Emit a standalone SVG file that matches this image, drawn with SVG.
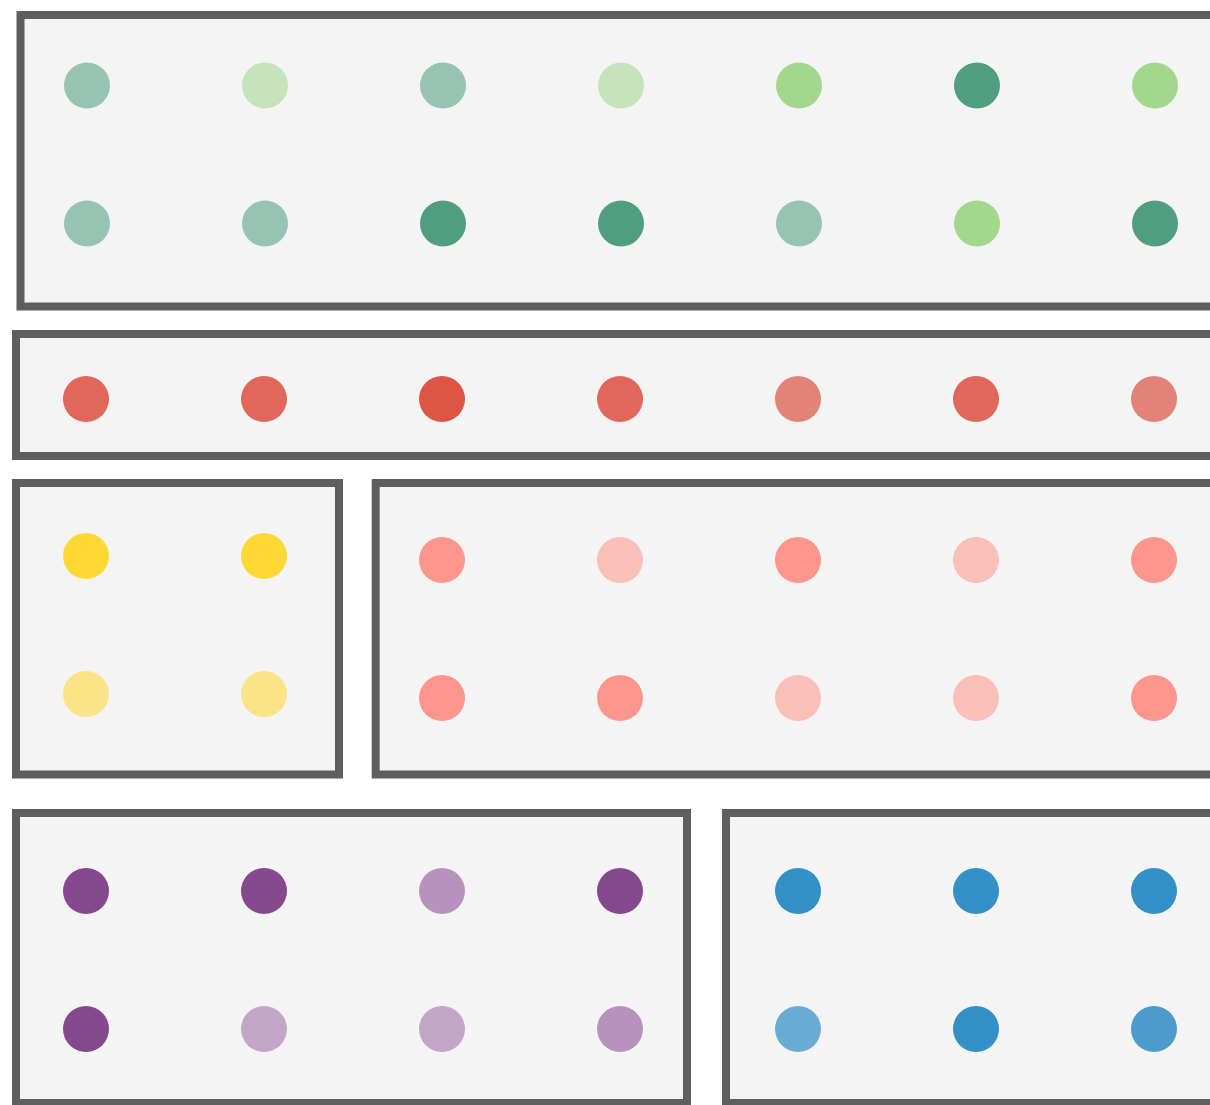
<svg xmlns="http://www.w3.org/2000/svg" width="1210" height="1105" viewBox="0 0 1210 1105">
<style>
.box{fill:#f4f4f4;stroke:#5e5e5e;stroke-width:8}
.g1{fill:#96c3b2}.g2{fill:#c5e4bb}.g3{fill:#a3d78c}.g4{fill:#509e80}
.r1{fill:#e06759}.r2{fill:#de5445}.r3{fill:#e28377}
.y1{fill:#ffd833}.y2{fill:#fbe488}
.p1{fill:#ff968c}.p2{fill:#f9bfb8}
.v1{fill:#85478d}.v2{fill:#b792bc}.v3{fill:#c3a6c7}
.b1{fill:#3290c7}.b2{fill:#68acd4}.b3{fill:#4b9ccd}
</style>
<rect width="1210" height="1105" fill="#ffffff"/>
<g id="group-green">
<rect class="box" x="20.5" y="15" width="1200" height="291.5"/>
<circle class="g1" cx="87" cy="85.5" r="23"/>
<circle class="g2" cx="265" cy="85.5" r="23"/>
<circle class="g1" cx="443" cy="85.5" r="23"/>
<circle class="g2" cx="621" cy="85.5" r="23"/>
<circle class="g3" cx="799" cy="85.5" r="23"/>
<circle class="g4" cx="977" cy="85.5" r="23"/>
<circle class="g3" cx="1155" cy="85.5" r="23"/>
<circle class="g1" cx="87" cy="223.5" r="23"/>
<circle class="g1" cx="265" cy="223.5" r="23"/>
<circle class="g4" cx="443" cy="223.5" r="23"/>
<circle class="g4" cx="621" cy="223.5" r="23"/>
<circle class="g1" cx="799" cy="223.5" r="23"/>
<circle class="g3" cx="977" cy="223.5" r="23"/>
<circle class="g4" cx="1155" cy="223.5" r="23"/>
</g>
<g id="group-red">
<rect class="box" x="16" y="334" width="1204" height="122"/>
<circle class="r1" cx="86" cy="399" r="23"/>
<circle class="r1" cx="264" cy="399" r="23"/>
<circle class="r2" cx="442" cy="399" r="23"/>
<circle class="r1" cx="620" cy="399" r="23"/>
<circle class="r3" cx="798" cy="399" r="23"/>
<circle class="r1" cx="976" cy="399" r="23"/>
<circle class="r3" cx="1154" cy="399" r="23"/>
</g>
<g id="group-yellow">
<rect class="box" x="16" y="483" width="323" height="291.5"/>
<circle class="y1" cx="86" cy="556" r="23"/>
<circle class="y1" cx="264" cy="556" r="23"/>
<circle class="y2" cx="86" cy="694" r="23"/>
<circle class="y2" cx="264" cy="694" r="23"/>
</g>
<g id="group-pink">
<rect class="box" x="375.7" y="483" width="850" height="291.5"/>
<circle class="p1" cx="442" cy="560" r="23"/>
<circle class="p2" cx="620" cy="560" r="23"/>
<circle class="p1" cx="798" cy="560" r="23"/>
<circle class="p2" cx="976" cy="560" r="23"/>
<circle class="p1" cx="1154" cy="560" r="23"/>
<circle class="p1" cx="442" cy="698" r="23"/>
<circle class="p1" cx="620" cy="698" r="23"/>
<circle class="p2" cx="798" cy="698" r="23"/>
<circle class="p2" cx="976" cy="698" r="23"/>
<circle class="p1" cx="1154" cy="698" r="23"/>
</g>
<g id="group-purple">
<rect class="box" x="16" y="813" width="671" height="290"/>
<circle class="v1" cx="86" cy="891" r="23"/>
<circle class="v1" cx="264" cy="891" r="23"/>
<circle class="v2" cx="442" cy="891" r="23"/>
<circle class="v1" cx="620" cy="891" r="23"/>
<circle class="v1" cx="86" cy="1029" r="23"/>
<circle class="v3" cx="264" cy="1029" r="23"/>
<circle class="v3" cx="442" cy="1029" r="23"/>
<circle class="v2" cx="620" cy="1029" r="23"/>
</g>
<g id="group-blue">
<rect class="box" x="726" y="813" width="500" height="290"/>
<circle class="b1" cx="798" cy="891" r="23"/>
<circle class="b1" cx="976" cy="891" r="23"/>
<circle class="b1" cx="1154" cy="891" r="23"/>
<circle class="b2" cx="798" cy="1029" r="23"/>
<circle class="b1" cx="976" cy="1029" r="23"/>
<circle class="b3" cx="1154" cy="1029" r="23"/>
</g>
<g id="connectors"/>
</svg>
